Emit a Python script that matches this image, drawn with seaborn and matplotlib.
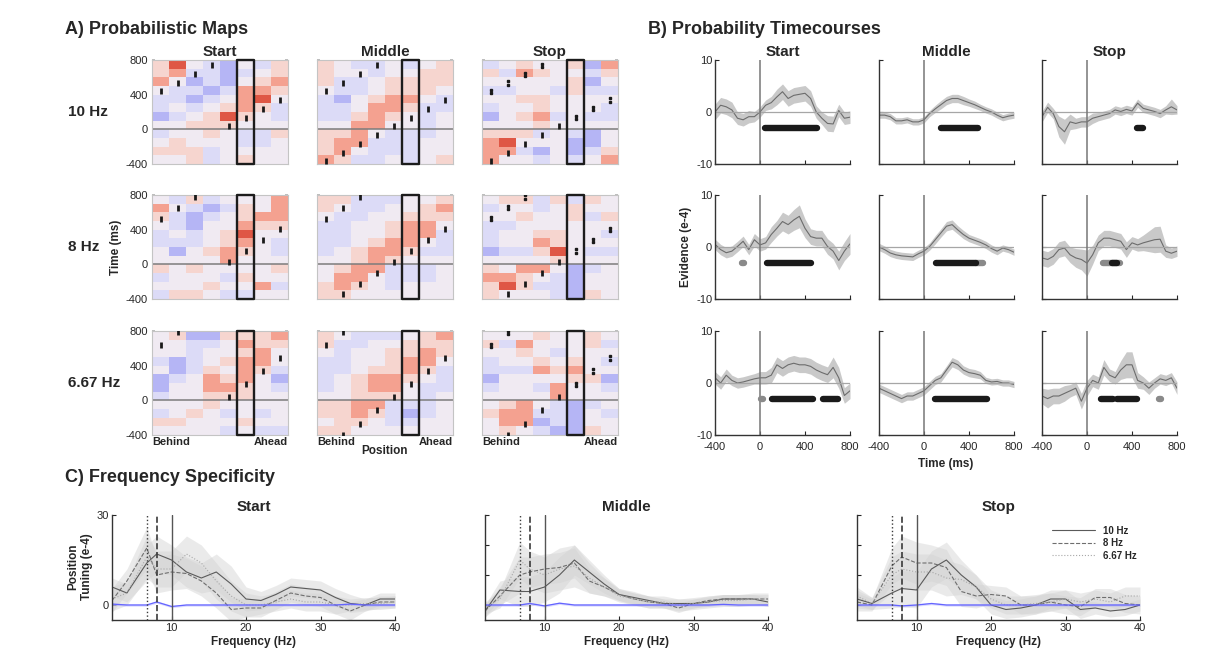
import numpy as np
import pandas as pd
import seaborn as sns
import matplotlib.pyplot as plt
from matplotlib.colors import LinearSegmentedColormap
from matplotlib.patches import Rectangle

W, H = 1205, 666

conditions = ['Start', 'Middle', 'Stop']
freq_labels = ['10 Hz', '8 Hz', '6.67 Hz']

# ---------------- A) Probabilistic maps ----------------
# one list per position bin (behind -> ahead), 12 time bins of 100 ms from 800 down to -400 ms
bin_top, bin_ms, n_bins = 800, 100, 12
map_ticks = [800, 400, 0, -400]
box_col = 5

map_start_10 = [
    [1, 1, 2, 0, -1, -1, -2, 0, -1, 0, 1, 0],
    [3, 2, 0, -1, -1, 0, -1, 0, 0, 1, 1, 0],
    [0, -1, -2, -1, -2, -1, 0, 1, 0, 0, 1, 1],
    [-1, -1, -1, -2, -1, 0, 1, 1, 1, 0, -1, -1],
    [-2, -2, -2, -1, 0, 1, 3, 1, 0, 0, 0, 0],
    [0, -1, 0, 2, 2, 2, 1, 0, -1, -1, 0, 1],
    [-1, 0, 1, 2, 3, 1, 0, 0, -1, -1, 0, 0],
    [1, 1, 2, 1, 0, -1, -1, 0, 1, 0, 0, 0],
]
map_middle_10 = [
    [1, 1, 1, 0, -1, -1, -1, 0, 1, 1, 1, 2],
    [0, 0, -1, -1, -2, -1, -1, 0, 1, 2, 2, 1],
    [-1, 0, -1, -1, 0, 0, 1, 2, 2, 2, 0, -1],
    [-1, -1, 0, 0, 1, 2, 2, 2, 0, -1, -1, -1],
    [0, 0, 1, 1, 2, 2, 1, 0, -1, -1, -1, 0],
    [-1, 0, 1, 1, 2, 1, 0, 0, -1, -1, -1, -1],
    [0, 1, 1, 1, 0, -1, -1, -1, -1, 0, 0, 0],
    [1, 1, 1, 0, -1, -1, 0, 0, 0, 0, 0, 1],
]
map_stop_10 = [
    [-1, 1, 0, -1, 0, -1, -2, 0, 1, 2, 2, 2],
    [0, -1, 0, -1, 0, 0, 0, 0, 1, 3, 2, 0],
    [1, 2, 0, 0, 1, 0, 1, 0, 1, 0, -1, 0],
    [0, 1, 0, 0, 1, 1, 2, 1, -1, 0, -2, -1],
    [0, 0, 0, -1, 0, 0, -1, 0, 0, 0, 0, 0],
    [1, 0, 1, 1, 0, 0, 0, 0, -1, -2, -2, -1],
    [-2, -1, -2, -1, 0, 0, -1, 0, -2, -2, -1, 0],
    [2, 1, 0, -1, 0, -1, -1, 0, 0, 0, 1, 2],
]
map_start_8 = [
    [0, 2, 1, 0, -1, -1, 0, 0, 1, -1, 0, -1],
    [-1, 0, -1, -1, 0, -1, -2, 0, 0, 0, 0, 1],
    [1, -1, -2, -2, -1, -1, 0, 0, 1, 0, 0, 1],
    [-1, -2, -1, 0, 0, 0, 1, 0, 0, 0, 1, 0],
    [0, -1, 0, 0, 1, 1, 2, 2, 0, -1, 0, -1],
    [0, 1, 1, 2, 3, 2, 1, 0, 0, 1, 0, -1],
    [0, 0, 2, 1, 0, 0, 0, 0, 0, 0, 2, 0],
    [2, 2, 2, 1, 0, -1, -1, 0, 1, 0, -1, 0],
]
map_middle_8 = [
    [1, 1, 0, -1, -1, -1, -1, 0, 0, 0, 1, 1],
    [1, 0, -1, -1, -1, -1, 0, 0, 1, 2, 2, 1],
    [-1, -1, -1, 0, 0, 0, 1, 1, 2, 2, 1, 0],
    [-1, -1, 0, 0, 0, 1, 2, 2, 2, 0, 0, 0],
    [-1, 0, 0, 1, 1, 2, 2, 1, -1, -1, -1, 0],
    [0, 0, 1, 2, 2, 2, 1, 0, -1, -1, 0, 0],
    [0, 1, 1, 2, 2, 0, -1, 0, -1, -1, 0, 0],
    [1, 2, 1, 0, -1, -1, -1, 0, 0, 0, 0, 0],
]
map_stop_8 = [
    [0, -1, 0, -1, -1, -1, -2, 0, 1, 2, 1, 1],
    [1, 0, 0, -1, 0, 0, -1, 0, 0, 2, 3, 0],
    [1, 0, 1, 0, 0, 0, -1, 0, 2, 1, 1, 0],
    [-1, -1, 0, 0, 1, 2, 1, 0, 2, 0, -1, 0],
    [1, 0, 0, 0, 1, 1, 3, 1, 0, -1, -1, -1],
    [-1, 1, 1, 0, 0, 0, 0, 0, -2, -2, -2, -2],
    [1, 0, -1, 0, 0, 0, -1, 0, -1, 0, 0, 1],
    [0, 0, 1, 0, -1, 0, -1, 0, 0, 0, 0, 0],
]
map_start_667 = [
    [0, 0, 0, -1, 0, -2, -2, -1, 0, -1, 1, 0],
    [1, 0, 0, -2, -2, -1, 0, 0, 0, 0, 1, 0],
    [-2, -1, -1, -1, -1, 0, 0, 0, 0, 1, 0, 0],
    [-2, -1, 0, 0, 1, 2, 2, 1, 1, 0, 0, 0],
    [1, 0, 0, 1, 0, 1, 2, 1, 0, -1, 0, -1],
    [1, 2, 1, 2, 2, 2, 1, 1, 0, 0, 1, 0],
    [1, 1, 2, 2, 1, 0, 0, 0, 0, -1, 0, -1],
    [2, 1, 0, 0, -1, -2, -1, 0, 0, 0, 0, -1],
]
map_middle_667 = [
    [1, 1, 0, -1, -1, -1, -1, 0, 1, 1, 0, 1],
    [0, -1, -1, -1, -1, 0, 0, 0, 1, 1, 1, 1],
    [-1, -1, 0, 0, 0, 1, 1, 1, 2, 2, 1, 0],
    [-1, 0, 0, 0, 1, 2, 2, 1, 2, 1, 0, 0],
    [-1, 0, 1, 1, 1, 2, 2, 1, -1, -1, -1, 0],
    [0, 1, 1, 2, 2, 1, 0, 0, -1, -2, -1, 0],
    [1, 1, 2, 2, 1, 0, -1, -1, -1, -1, 0, 0],
    [2, 1, 1, 0, -1, -1, -1, 0, 0, 0, 0, 0],
]
map_stop_667 = [
    [0, 1, 0, -1, -1, -2, -1, 0, 0, 1, 0, 0],
    [0, -1, 0, 0, -1, 0, 0, 0, 1, 2, 2, 1],
    [0, 2, 1, 0, -1, 0, 0, 0, 2, 2, 2, 0],
    [1, 0, 0, 1, 2, 0, -1, 0, 0, -1, -2, -1],
    [0, 0, -1, 0, 1, 0, 2, 2, -1, -1, -1, -2],
    [0, 0, 0, 1, 2, 1, 0, 0, -2, -2, -2, -2],
    [1, 1, 0, 0, 0, 1, 0, 0, -1, 0, 0, 1],
    [0, -1, 0, -1, 0, -2, -1, 0, 0, -1, 0, 0],
]

# predicted sweep markers, time (ms) per position bin
sweep_post_10 = [438, 535, 635, 738, 38, 135, 238, 338]
sweep_post_8 = [527, 654, 777, None, 31, 154, 277, 404]
sweep_post_667 = [635, 785, None, None, 38, 185, 338, 488]
sweep_pre_10 = [-369, -269, -165, -69, None, None, None, None]
sweep_pre_8 = [None, -346, -223, -96, None, None, None, None]
sweep_pre_667 = [None, -396, -269, -115, None, None, None, None]
pair_cols_stop = [0, 1, 2, 3, 5, 6, 7]

# ---------------- B) Probability timecourses ----------------
time_ms = [-400, -350, -300, -250, -200, -150, -100, -50, 0, 50, 100, 150, 200,
           250, 300, 350, 400, 450, 500, 550, 600, 650, 700, 750, 800]

ev_start_10 = [0, 1.3, 1.0, 0.4, -1.2, -1.5, -0.9, -0.9, 0, 1.3, 1.8, 2.9, 3.9,
               2.6, 3.2, 3.4, 3.6, 2.6, 0, -1.2, -2.2, -2.3, 0.3, -1.2, -1.0]
ev_middle_10 = [-0.6, -0.6, -0.9, -1.7, -1.7, -1.5, -1.9, -1.9, -1.5, -0.3, 0.6, 1.4, 2.2,
                2.6, 2.6, 2.2, 1.8, 1.4, 0.9, 0.4, 0.0, -0.6, -1.1, -0.8, -0.6]
ev_stop_10 = [-0.9, 0.9, -0.3, -2.8, -3.8, -1.9, -2.2, -1.9, -1.9, -1.2, -0.9, -0.6, -0.3,
              0.4, 0.1, 0.5, 0.2, 1.7, 0.7, 0.4, 0.1, -0.3, 0.4, 1.0, 0.4]
ev_start_8 = [0.5, -0.5, -1.1, -0.8, 0.1, 1.1, -0.5, 1.4, 0.4, 0.8, 2.4, 3.6, 4.9,
              4.3, 5.2, 5.9, 3.6, 2.0, 1.7, 1.7, 0.1, -0.8, -2.6, -0.8, 0.6]
ev_middle_8 = [0, -0.5, -1.15, -1.5, -1.7, -1.8, -1.9, -1.3, -0.8, 0.1, 1.4, 2.7, 4.0,
               4.3, 3.3, 2.4, 1.7, 1.3, 0.9, 0.4, -0.3, -0.8, -0.2, -0.5, -1.0]
ev_stop_8 = [-2.1, -2.4, -1.8, -0.5, -0.2, -1.5, -2.1, -2.4, -3.1, -1.5, 0.8, 1.7, 1.7,
             1.4, 1.1, -0.5, 0.8, 0.4, 0.8, 1.1, 1.4, 1.5, -0.8, -1.2, -0.8]
ev_start_667 = [1.0, 0, 1.5, 0.5, 0, 0.2, 0.5, 0.8, 1.0, 1.0, 1.5, 3.5, 2.8,
                3.5, 3.8, 3.5, 3.5, 3.2, 2.5, 2.0, 1.6, 3.0, 1.0, -2.4, -1.5]
ev_middle_667 = [-1.0, -1.5, -2.0, -2.5, -3.0, -2.5, -2.5, -2.0, -1.5, -0.5, 0.5, 1.0, 2.5,
                 4.0, 3.5, 2.5, 2.0, 1.8, 1.5, 0.5, 0.2, 0.3, 0, 0, -0.3]
ev_stop_667 = [-2.5, -3.0, -2.5, -2.5, -2.0, -1.5, -1.0, -3.5, -1.0, 0.5, 0, 3.0, 1.5,
               1.0, 2.5, 3.5, 3.5, 0.5, 0, -1.0, 0, 0.8, 0.5, 1.0, -1.0]

sem_start_10 = [1.5, 1.5, 1.5, 1.5, 1.2, 1.2, 1.2, 1.0, 1.0, 1.0, 1.2, 1.5, 1.5,
                1.5, 1.5, 1.5, 1.5, 1.5, 1.2, 1.2, 1.5, 1.5, 1.2, 1.2, 1.2]
sem_middle_10 = [0.6, 0.6, 0.6, 0.6, 0.6, 0.6, 0.6, 0.6, 0.6, 0.6, 0.7, 0.8, 0.8,
                 0.8, 0.8, 0.8, 0.7, 0.7, 0.6, 0.6, 0.6, 0.6, 0.6, 0.6, 0.6]
sem_stop_10 = [1.0, 1.0, 1.0, 2.0, 2.4, 1.5, 1.0, 1.0, 1.0, 1.0, 0.8, 0.8, 0.8,
               0.8, 0.8, 0.8, 0.8, 0.8, 0.8, 0.8, 0.8, 0.8, 0.8, 1.5, 0.8]
sem_start_8 = [1.0, 1.0, 1.0, 1.0, 1.0, 1.0, 1.0, 1.2, 1.2, 1.2, 1.5, 1.5, 1.8,
               1.8, 2.0, 2.2, 1.8, 1.5, 1.5, 1.5, 1.5, 1.5, 1.8, 1.8, 2.0]
sem_middle_8 = [0.7, 0.7, 0.7, 0.7, 0.7, 0.7, 0.7, 0.7, 0.7, 0.7, 0.8, 0.8, 0.9,
                0.9, 0.8, 0.8, 0.7, 0.7, 0.7, 0.7, 0.7, 0.7, 0.6, 0.6, 0.6]
sem_stop_8 = [1.5, 1.5, 1.5, 1.5, 1.5, 1.5, 1.8, 2.0, 2.5, 1.8, 1.5, 1.5, 1.5,
              1.5, 1.5, 1.5, 1.2, 1.2, 1.5, 2.0, 2.5, 2.5, 1.2, 1.0, 1.0]
sem_start_667 = [1.2, 1.2, 1.2, 1.0, 1.0, 1.0, 1.0, 1.0, 1.2, 1.2, 1.5, 1.5, 1.5,
                 1.5, 1.5, 1.5, 1.5, 1.5, 1.5, 1.5, 1.5, 2.0, 2.0, 1.5, 1.5]
sem_middle_667 = [0.8, 0.8, 0.8, 0.8, 0.8, 0.8, 0.8, 0.8, 0.8, 0.8, 0.8, 0.8, 0.8,
                  0.9, 0.9, 0.8, 0.8, 0.8, 0.7, 0.6, 0.6, 0.6, 0.6, 0.6, 0.6]
sem_stop_667 = [1.5, 1.8, 1.5, 1.5, 1.5, 1.2, 1.2, 1.5, 1.5, 1.2, 1.2, 1.5, 1.2,
                1.2, 1.8, 2.5, 2.5, 1.5, 1.2, 1.2, 1.0, 1.0, 1.0, 1.0, 1.2]

# significant clusters: (start ms, end ms, level) -> level 1 strong (black), 0 weak (gray)
sig_start_10 = [(45, 510, 1)]
sig_middle_10 = [(150, 480, 1)]
sig_stop_10 = [(440, 495, 1)]
sig_start_8 = [(-162, -146, 0), (60, 450, 1)]
sig_middle_8 = [(460, 520, 0), (110, 460, 1)]
sig_stop_8 = [(140, 295, 0), (220, 265, 1)]
sig_start_667 = [(10, 24, 0), (110, 475, 1), (560, 690, 1)]
sig_middle_667 = [(100, 560, 1)]
sig_stop_667 = [(125, 235, 1), (265, 440, 1), (640, 655, 0)]
sig_level = -3

# ---------------- C) Frequency specificity ----------------
freqs = [2, 4, 6.67, 8, 10, 12, 14, 16, 18, 20, 22, 24, 26, 28, 30, 32, 34, 36, 38, 40]

tune_start_10 = [6, 4, 14, 17, 15, 11, 9, 11, 7, 2, 1.5, 3.5, 6, 5.5, 5, 2.5, 0.5, 0, 2, 2]
tune_start_8 = [1.5, 8, 19, 10, 11, 10.5, 8, 4, -1.5, -1, -1, 1.5, 4, 3, 2.5, 0, -2, 0, 1, 1]
tune_start_667 = [2, 4, 16, 12, 12, 17, 14, 8, 3, 0, 0, 1, 2, 1, 1, 0, 0, 0.5, 0.5, 1]
tune_middle_10 = [-2, 5, 4.5, 4.5, 6, 10, 15, 11, 7, 3.5, 2.5, 1.5, 0.5, 0.5, 0.5, 1, 2, 2, 2, 1]
tune_middle_8 = [-2, 3, 10, 11, 12, 12.5, 14, 8, 6, 3.5, 2, 1, 0.5, -1, 0.5, 1.5, 2, 2, 2, 2]
tune_middle_667 = [-1, 2, 15, 12, 10, 12, 13, 9, 6, 3, 2, 1, 1, 0, 0.5, 1, 1.5, 1.5, 2, 2]
tune_stop_10 = [2, 0.5, 4, 5.5, 5, 12, 15, 10, 6, 0, -1.5, -1, 0, 2, 2, -1.5, -1, -2, -1.5, 0]
tune_stop_8 = [1, 0, 13, 16, 14, 14, 12.5, 4.5, 3, 3.5, 3, 0, 0, 1, 0, -0.5, 2.5, 2.5, 0.5, 0]
tune_stop_667 = [3, 0.5, 10, 12, 11, 11, 9, 8.5, 6, 2, 0, 0, 0.5, 1, 2, 1, 2, 1, 3, 3]

tsem_start_10 = [3, 3, 6, 6, 5, 5, 5, 6, 6, 4, 3, 3, 3, 3, 3, 3, 3, 2, 2, 2]
tsem_start_8 = [4, 4, 7, 6, 6, 5, 5, 5, 4, 3, 3, 3, 3, 3, 3, 3, 3, 2, 2, 2]
tsem_start_667 = [4, 4, 7, 6, 6, 6, 6, 6, 5, 4, 3, 3, 3, 3, 3, 3, 2, 2, 2, 2]
tsem_middle_10 = [2, 3, 5, 5, 5, 6, 5, 4, 3, 2, 2, 1.5, 1.5, 1.5, 1.5, 1.5, 1.5, 1.5, 1.5, 1.5]
tsem_middle_8 = [2, 3, 6, 5, 5, 5, 5, 4, 3, 2, 2, 2, 1.5, 1.5, 1.5, 1.5, 1.5, 1.5, 1.5, 1.5]
tsem_middle_667 = [2, 3, 6, 6, 6, 7, 7, 5, 3, 2, 2, 2, 2, 2, 2, 2, 2, 2, 2, 2]
tsem_stop_10 = [3, 2, 5, 6, 6, 6, 6, 5, 4, 3, 3, 3, 3, 3, 3, 3, 2, 2, 2, 2]
tsem_stop_8 = [3, 2, 6, 7, 7, 6, 6, 5, 4, 3, 3, 3, 3, 3, 3, 3, 3, 3, 3, 3]
tsem_stop_667 = [3, 2, 6, 6, 6, 6, 6, 5, 4, 3, 3, 3, 3, 3, 3, 3, 3, 3, 3, 3]

null_start = [0.3, 0, 0, 1.0, -0.5, 0, 0, 0, 0, 0, 0, 0, 0, 0, 0, 0, 0.3, 0, 0, 0]
null_middle = [0, 0, 0, 0.5, -0.3, 0.6, 0, 0, 0, 0, 0, 0, 0, 0, 0, 0, 0.2, 0, 0, 0]
null_stop = [0, 0, 0, -0.3, 0, 0.5, 0, 0, 0, 0, 0, 0, 0, 0, 0, 0, 0, 0, 0, 0]
theta_freqs = [10, 8, 6.67]

# lookup tables built from the arrays above
maps = {('Start', '10 Hz'): map_start_10, ('Middle', '10 Hz'): map_middle_10, ('Stop', '10 Hz'): map_stop_10,
        ('Start', '8 Hz'): map_start_8, ('Middle', '8 Hz'): map_middle_8, ('Stop', '8 Hz'): map_stop_8,
        ('Start', '6.67 Hz'): map_start_667, ('Middle', '6.67 Hz'): map_middle_667, ('Stop', '6.67 Hz'): map_stop_667}
sweep_post = {'10 Hz': sweep_post_10, '8 Hz': sweep_post_8, '6.67 Hz': sweep_post_667}
sweep_pre = {'10 Hz': sweep_pre_10, '8 Hz': sweep_pre_8, '6.67 Hz': sweep_pre_667}
evidence = {('Start', '10 Hz'): (ev_start_10, sem_start_10, sig_start_10),
            ('Middle', '10 Hz'): (ev_middle_10, sem_middle_10, sig_middle_10),
            ('Stop', '10 Hz'): (ev_stop_10, sem_stop_10, sig_stop_10),
            ('Start', '8 Hz'): (ev_start_8, sem_start_8, sig_start_8),
            ('Middle', '8 Hz'): (ev_middle_8, sem_middle_8, sig_middle_8),
            ('Stop', '8 Hz'): (ev_stop_8, sem_stop_8, sig_stop_8),
            ('Start', '6.67 Hz'): (ev_start_667, sem_start_667, sig_start_667),
            ('Middle', '6.67 Hz'): (ev_middle_667, sem_middle_667, sig_middle_667),
            ('Stop', '6.67 Hz'): (ev_stop_667, sem_stop_667, sig_stop_667)}
tuning = {('Start', '10 Hz'): (tune_start_10, tsem_start_10), ('Start', '8 Hz'): (tune_start_8, tsem_start_8),
          ('Start', '6.67 Hz'): (tune_start_667, tsem_start_667),
          ('Middle', '10 Hz'): (tune_middle_10, tsem_middle_10), ('Middle', '8 Hz'): (tune_middle_8, tsem_middle_8),
          ('Middle', '6.67 Hz'): (tune_middle_667, tsem_middle_667),
          ('Stop', '10 Hz'): (tune_stop_10, tsem_stop_10), ('Stop', '8 Hz'): (tune_stop_8, tsem_stop_8),
          ('Stop', '6.67 Hz'): (tune_stop_667, tsem_stop_667)}
nulls = {'Start': null_start, 'Middle': null_middle, 'Stop': null_stop}

# ---------------- drawing ----------------
sns.set_theme(style='white')
plt.rcParams['font.family'] = ['Liberation Sans', 'DejaVu Sans']
plt.rcParams['axes.unicode_minus'] = False

fig = plt.figure(figsize=(W / 100, H / 100), dpi=100)


def px_rect(x, y, w, h):
    return [x / W, 1 - (y + h) / H, w / W, h / H]


def fig_text(x, y, s, **kw):
    fig.text(x / W, 1 - y / H, s, **kw)


def to_row(t):
    return (bin_top - t) / bin_ms


cmap = LinearSegmentedColormap.from_list('bwr_soft', [
    (0.42, 0.42, 0.94), (0.66, 0.66, 0.96), (0.85, 0.85, 0.97), (0.94, 0.92, 0.95),
    (0.97, 0.82, 0.79), (0.95, 0.56, 0.48), (0.82, 0.18, 0.12)])

row_y = [60, 195, 331]
row_h = 104
a_x, a_w = [152, 317, 482], 136
b_x, b_w = [715, 879, 1042], 135
c_x, c_w, c_y, c_h = [112, 485, 857], 283, 515, 105

for i, fl in enumerate(freq_labels):
    for j, cond in enumerate(conditions):
        # --- A heatmap
        ax = fig.add_axes(px_rect(a_x[j], row_y[i], a_w, row_h))
        grid = pd.DataFrame(np.array(maps[(cond, fl)]).T)
        sns.heatmap(grid, ax=ax, cmap=cmap, vmin=-3.5, vmax=3.5, cbar=False,
                    xticklabels=False, yticklabels=False)
        for s in ax.spines.values():
            s.set_visible(True)
            s.set_color('#c4c4c4')
            s.set_linewidth(0.8)
        ax.set_yticks([to_row(t) for t in map_ticks])
        ax.set_yticklabels([str(t) for t in map_ticks] if j == 0 else [])
        ax.set_xticks(np.arange(len(grid.columns)) + 0.5)
        ax.tick_params(axis='y', direction='in', length=2, color='#b5b5b5', left=True, right=True,
                       labelsize=8, pad=3)
        ax.tick_params(axis='x', direction='in', length=1.5, color='#b5b5b5', top=True, bottom=True,
                       labelbottom=False)
        ax.set_xlabel('')
        ax.set_ylabel('')
        ax.axhline(to_row(0), color='#7c7c7c', lw=1.1)
        ax.add_patch(Rectangle((box_col, 0), 1, n_bins, fill=False, ec='#1c1c1c', lw=1.7,
                               joinstyle='round', clip_on=False, zorder=5))
        for col, t in enumerate(sweep_post[fl]):
            if t is None:
                continue
            y = to_row(t)
            if cond == 'Stop' and col in pair_cols_stop:
                ax.plot([col + 0.5, col + 0.5], [y - 0.2, y + 0.2], ls='none', marker='s',
                        ms=1.9, color='k', zorder=6)
            else:
                ax.plot(col + 0.5, y, marker='|', ms=5, mew=2, color='k', zorder=6)
        if cond != 'Start':
            for col, t in enumerate(sweep_pre[fl]):
                if t is None:
                    continue
                ax.plot(col + 0.5, to_row(t), marker='|', ms=5, mew=2, color='k', zorder=6)
        if i == 0:
            ax.set_title(cond, fontsize=11, fontweight='bold', pad=3)
        if i == 2:
            ax.text(0, -0.02, 'Behind', transform=ax.transAxes, ha='left', va='top',
                    fontsize=8, fontweight='bold')
            ax.text(1, -0.02, 'Ahead', transform=ax.transAxes, ha='right', va='top',
                    fontsize=8, fontweight='bold')

        # --- B timecourse
        ax = fig.add_axes(px_rect(b_x[j], row_y[i], b_w, row_h))
        ev, sem, sig = evidence[(cond, fl)]
        ev, sem = np.array(ev), np.array(sem)
        ax.fill_between(time_ms, ev - sem, ev + sem, color='#c9c9c9', lw=0)
        sns.lineplot(x=time_ms, y=ev, ax=ax, color='#6c6c6c', lw=0.8)
        ax.axhline(0, color='#a6a6a6', lw=0.9)
        ax.axvline(0, color='#777777', lw=1.1)
        for start, end, level in sig:
            ax.plot([start, end], [sig_level, sig_level], color='k' if level else '#8a8a8a',
                    lw=4.6, solid_capstyle='round')
        ax.set_xlim(-400, 800)
        ax.set_ylim(-10, 10)
        ax.set_xticks([-400, 0, 400, 800])
        ax.set_yticks([-10, 0, 10])
        ax.tick_params(axis='y', direction='in', length=3, width=0.8, labelsize=8, pad=2,
                       left=True, labelleft=(j == 0))
        ax.tick_params(axis='x', direction='in', length=3, width=0.8, labelsize=8, pad=5,
                       bottom=True, labelbottom=(i == 2))
        sns.despine(ax=ax)
        for s in ['left', 'bottom']:
            ax.spines[s].set_color('#333333')
            ax.spines[s].set_linewidth(1.0)
        if i == 0:
            ax.set_title(cond, fontsize=11, fontweight='bold', pad=3)

# --- C frequency tuning
line_styles = {'10 Hz': ('-', '#5a5a5a'), '8 Hz': ('--', '#6e6e6e'), '6.67 Hz': (':', '#a8a8a8')}
for j, cond in enumerate(conditions):
    ax = fig.add_axes(px_rect(c_x[j], c_y, c_w, c_h))
    for fl in freq_labels:
        vals, sem = tuning[(cond, fl)]
        vals, sem = np.array(vals), np.array(sem)
        ls, col = line_styles[fl]
        ax.fill_between(freqs, vals - sem, vals + sem, color='#d2d2d2', alpha=0.45, lw=0)
        sns.lineplot(x=freqs, y=vals, ax=ax, color=col, lw=0.8, ls=ls,
                     label=fl if cond == 'Stop' else None, legend=False)
    nv = np.array(nulls[cond])
    ax.fill_between(freqs, nv - 0.4, nv + 0.4, color='#9a9aff', alpha=0.35, lw=0)
    sns.lineplot(x=freqs, y=nv, ax=ax, color='#6464ff', lw=0.9, legend=False)
    for f, (ls, _) in zip(theta_freqs, [line_styles[k] for k in freq_labels]):
        ax.axvline(f, color='#3a3a3a' if ls != '-' else '#555555', ls=ls,
                   lw=1.2 if ls == '--' else 1.0)
    ax.set_xlim(2, 40)
    ax.set_ylim(-5, 30)
    ax.set_xticks([10, 20, 30, 40])
    if j == 0:
        ax.set_yticks([0, 30])
    else:
        ax.set_yticks([0, 10, 20, 30])
    ax.tick_params(direction='in', length=3, width=0.8, labelsize=8, pad=2,
                   left=True, bottom=True, labelleft=(j == 0))
    sns.despine(ax=ax)
    for s in ['left', 'bottom']:
        ax.spines[s].set_color('#333333')
        ax.spines[s].set_linewidth(1.0)
    ax.set_title(cond, fontsize=11, fontweight='bold', pad=3)
    ax.set_xlabel('Frequency (Hz)', fontsize=8.5, fontweight='bold', labelpad=2)
    if cond == 'Stop':
        ax.legend(loc='upper right', bbox_to_anchor=(1.02, 0.98), frameon=False,
                  handlelength=4.5, labelspacing=0.25, prop={'weight': 'bold', 'size': 7})

# --- headings and shared labels
fig_text(65, 30, 'A) Probabilistic Maps', fontsize=13, fontweight='bold', va='center')
fig_text(648, 30, 'B) Probability Timecourses', fontsize=13, fontweight='bold', va='center')
fig_text(65, 478, 'C) Frequency Specificity', fontsize=13, fontweight='bold', va='center')
for lab, y in zip(freq_labels, row_y):
    fig_text(68, y + 52, lab, fontsize=11, fontweight='bold', va='center')
fig_text(116, 247, 'Time (ms)', fontsize=8.5, fontweight='bold', rotation=90, ha='center', va='center')
fig_text(385, 451, 'Position', fontsize=8.5, fontweight='bold', ha='center', va='center')
fig_text(686, 247, 'Evidence (e-4)', fontsize=8.5, fontweight='bold', rotation=90, ha='center', va='center')
fig_text(946, 464, 'Time (ms)', fontsize=8.5, fontweight='bold', ha='center', va='center')
fig_text(80, 567, 'Position\nTuning (e-4)', fontsize=8.5, fontweight='bold', rotation=90,
         ha='center', va='center', multialignment='center')

fig.savefig('out.png', dpi=100, facecolor='white')
